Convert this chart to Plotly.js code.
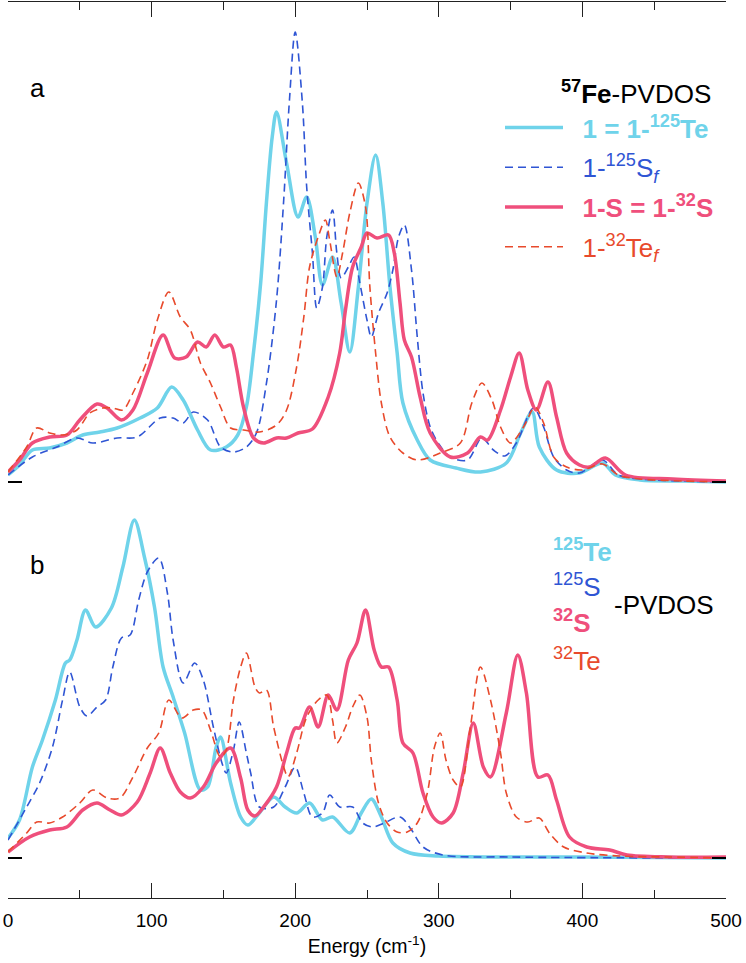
<!DOCTYPE html>
<html>
<head>
<meta charset="utf-8">
<script src="https://cdn.plot.ly/plotly-3.0.1.min.js"></script>
<style>html,body{margin:0;padding:0;background:#fff;}#chart{width:746px;height:963px;}</style>
</head>
<body>
<div id="chart"></div>
<script>
// ---- Panel a: 57Fe-PVDOS (energy in cm-1, intensity in arbitrary units) ----
const aTeE = [0,8,17,29,41,52,64,76,92,104,114,122,132,141,152,160,166,171,176,180,184,187,194,202,208,214,219,226,232,238,244,250,256,261,266,271,275,285,294,312,329,347,357,365,370,382,398,414,423,440,470,500];
const aTeY = [0.07,0.17,0.32,0.34,0.39,0.47,0.50,0.54,0.64,0.74,0.95,0.82,0.52,0.32,0.35,0.47,0.75,1.30,2.00,2.80,3.45,3.70,3.19,2.65,2.85,2.45,1.97,2.25,1.79,1.30,1.95,2.79,3.27,2.79,1.95,1.29,0.79,0.42,0.22,0.14,0.10,0.19,0.49,0.70,0.35,0.12,0.09,0.19,0.07,0.02,0.01,0.00];

const aSE = [0,17,34,48,59,76,90,106,115,122,129,139,148,157,166,173,180,187,192,196,200,205,208,212,215,219,222,226,229,232,237,241,245,250,253,258,264,268,272,276,281,285,289,294,300,308,320,330,338,346,354,366,373,380,389,398,414,425,440,470,500];
const aSY = [0.07,0.25,0.35,0.44,0.39,0.44,0.45,0.64,0.64,0.59,0.70,0.62,0.35,0.30,0.35,0.49,0.99,1.82,2.82,3.82,4.50,3.79,2.95,2.29,1.74,1.95,2.45,2.72,2.29,2.04,2.15,2.25,1.99,1.62,1.45,1.69,1.89,2.12,2.45,2.57,2.12,1.45,0.89,0.55,0.38,0.25,0.22,0.44,0.32,0.26,0.39,0.74,0.55,0.25,0.12,0.09,0.22,0.07,0.03,0.01,0.00];

const aSSE = [0,8,17,29,41,50,62,69,79,87,97,108,116,124,132,138,144,150,155,159,164,171,178,187,194,202,212,223,231,235,240,246,250,257,265,269,273,276,281,287,294,308,320,329,334,343,350,356,362,368,376,382,389,398,405,416,430,463,500];
const aSSY = [0.10,0.22,0.39,0.45,0.47,0.62,0.78,0.74,0.62,0.72,1.09,1.47,1.24,1.25,1.40,1.35,1.47,1.35,1.37,1.15,0.75,0.44,0.39,0.44,0.44,0.49,0.53,0.85,1.29,1.72,2.15,2.35,2.49,2.44,2.47,2.29,1.79,1.42,1.25,0.85,0.49,0.25,0.29,0.45,0.42,0.72,1.05,1.29,0.92,0.72,1.00,0.65,0.29,0.17,0.15,0.24,0.07,0.03,0.01];

const aTefE = [0,13,20,29,38,48,57,66,73,80,87,97,104,112,120,127,134,141,148,155,164,175,187,194,201,206,210,216,221,224,229,233,238,244,249,252,256,260,266,275,285,301,315,323,330,337,343,350,359,367,373,380,389,400,414,425,440,470,500];
const aTefY = [0.10,0.35,0.54,0.49,0.47,0.52,0.69,0.74,0.74,0.72,0.89,1.22,1.62,1.90,1.65,1.52,1.19,0.99,0.75,0.54,0.52,0.50,0.57,0.72,1.15,1.65,2.15,2.45,2.62,2.42,2.05,2.29,2.69,2.99,2.75,1.95,1.29,0.79,0.45,0.29,0.22,0.29,0.39,0.79,0.99,0.82,0.55,0.39,0.55,0.75,0.59,0.25,0.15,0.12,0.18,0.07,0.03,0.01,0.00];

// ---- Panel b: element-specific PVDOS ----
const bTeE = [0,8,17,24,33,40,43,48,54,61,72,80,88,95,102,108,115,123,134,139,145,148,155,162,167,175,185,193,201,210,219,226,238,246,253,260,268,280,300,350,400,500];
const bTeY = [0.20,0.38,0.91,1.18,1.58,1.95,1.98,2.18,2.48,2.31,2.50,2.91,3.38,3.01,2.51,1.91,1.61,1.25,0.68,0.71,1.11,1.21,0.75,0.41,0.33,0.45,0.61,0.51,0.45,0.55,0.38,0.41,0.25,0.45,0.59,0.41,0.15,0.05,0.02,0.01,0.01,0.00];

const bSE = [0,13,22,31,38,43,50,55,62,68,73,79,85,91,97,105,111,115,122,130,136,143,149,152,157,161,166,169,175,185,193,200,206,212,219,224,231,240,247,254,262,273,281,289,303,350,500];
const bSY = [0.18,0.51,0.75,1.11,1.58,1.86,1.51,1.42,1.51,1.58,1.91,2.20,2.23,2.58,2.86,3.00,2.65,2.18,1.75,1.95,1.78,1.31,0.95,0.85,1.08,1.36,1.05,0.85,0.51,0.51,0.71,0.91,0.65,0.41,0.45,0.63,0.51,0.51,0.35,0.31,0.35,0.41,0.28,0.11,0.03,0.01,0.00];

const bSSE = [0,15,29,41,52,62,71,79,90,99,106,113,120,127,136,145,155,162,167,172,178,187,194,200,203,210,216,223,229,237,243,249,255,260,265,271,275,282,289,296,302,310,317,324,331,336,347,355,361,369,376,382,391,403,419,431,460,500];
const bSSY = [0.06,0.21,0.28,0.31,0.48,0.55,0.48,0.43,0.56,0.85,1.10,0.85,0.66,0.60,0.71,0.95,1.10,0.80,0.48,0.42,0.51,0.71,1.05,1.30,1.30,1.51,1.31,1.63,1.48,1.98,2.15,2.48,2.08,1.91,1.91,1.58,1.15,1.05,0.65,0.41,0.35,0.45,0.85,1.35,0.91,0.81,1.45,2.03,1.65,0.81,0.83,0.58,0.21,0.11,0.08,0.03,0.01,0.01];

const bTefE = [0,13,20,29,38,50,59,69,78,87,97,105,112,121,129,135,141,148,152,157,162,166,172,175,180,185,192,195,201,208,216,222,226,229,235,240,245,250,253,258,264,271,278,285,292,297,301,305,310,315,322,329,336,343,347,354,362,370,377,387,403,426,460,500];
const bTefY = [0.06,0.25,0.36,0.35,0.41,0.55,0.68,0.60,0.60,0.81,1.10,1.25,1.58,1.40,1.48,1.48,1.28,1.01,1.08,1.58,1.91,2.05,1.71,1.65,1.68,1.31,0.91,0.81,1.05,1.41,1.58,1.63,1.38,1.15,1.31,1.51,1.63,1.41,0.98,0.55,0.35,0.26,0.26,0.35,0.65,1.11,1.25,0.98,0.78,0.71,1.31,1.91,1.58,1.05,0.65,0.41,0.36,0.40,0.25,0.11,0.05,0.02,0.01,0.00];

const xTicks = [0,100,200,300,400,500];

const cLight = '#6fd3ea', cBlue = '#2f55d4', cPink = '#ef4f7c', cRed = '#e84a2c';
const wSolid = 3.5, wDash = 1.6, dashPat = '8px,5px';
const SP = '\u00a0\u00a0';

function tr(x, y, color, width, dash, xa, ya, name, show, grp) {
  return {x: x, y: y, type: 'scatter', mode: 'lines', xaxis: xa, yaxis: ya,
    line: {color: color, width: width, dash: dash, shape: 'spline', smoothing: 0.9},
    name: name, showlegend: show, legendgroup: grp, hoverinfo: 'skip'};
}

const data = [
  tr(aTeE, aTeY, cLight, wSolid, 'solid', 'x2', 'y2', SP + '<span style="color:'+cLight+'"><b>1 = 1-<sup>125</sup>Te</b></span>', true, 'g1'),
  tr(aSE, aSY, cBlue, wDash, dashPat, 'x2', 'y2', SP + '<span style="color:'+cBlue+'">1-<sup>125</sup>S<sub><i>f</i></sub></span>', true, 'g2'),
  tr(aSSE, aSSY, cPink, wSolid, 'solid', 'x2', 'y2', SP + '<span style="color:'+cPink+'"><b>1-S = 1-<sup>32</sup>S</b></span>', true, 'g3'),
  tr(aTefE, aTefY, cRed, wDash, dashPat, 'x2', 'y2', SP + '<span style="color:'+cRed+'">1-<sup>32</sup>Te<sub><i>f</i></sub></span>', true, 'g4'),
  tr(bTeE, bTeY, cLight, wSolid, 'solid', 'x', 'y', '125Te', false, 'h1'),
  tr(bSE, bSY, cBlue, wDash, dashPat, 'x', 'y', '125S', false, 'h2'),
  tr(bSSE, bSSY, cPink, wSolid, 'solid', 'x', 'y', '32S', false, 'h3'),
  tr(bTefE, bTefY, cRed, wDash, dashPat, 'x', 'y', '32Te', false, 'h4')
];

const F = 'Liberation Sans, Arial, Helvetica, sans-serif';
const H = 896, T = 2;
function py(pix) { return (898 - pix) / H; }
function px(pix) { return (pix - 8) / 718; }
const splitPix = 488;
const split = py(splitPix);

const xCommon = {range: [0, 500], showgrid: false, zeroline: false, showline: true,
  linecolor: '#222', linewidth: 1, ticks: 'inside', ticklen: 15, tickcolor: '#222', tickwidth: 1,
  tickvals: xTicks, minor: {dtick: 50, tick0: 0, ticks: 'inside', ticklen: 8, tickcolor: '#222', tickwidth: 1}};

const yCommon = {showgrid: false, zeroline: false, showline: false, showticklabels: false,
  tickvals: [0], ticks: 'inside', ticklen: 14, tickwidth: 2, tickcolor: '#000', mirror: 'ticks', fixedrange: true};

const layout = {
  width: 746, height: 963,
  margin: {l: 8, r: 20, t: T, b: 65},
  paper_bgcolor: '#fff', plot_bgcolor: 'rgba(0,0,0,0)',
  font: {family: F, color: '#000'},
  showlegend: true,
  legend: {x: px(500), xanchor: 'left', y: py(104), yanchor: 'top', bgcolor: 'rgba(0,0,0,0)',
    font: {family: F, size: 26}, tracegroupgap: 3, itemwidth: 58, traceorder: 'grouped'},
  xaxis: Object.assign({}, xCommon, {anchor: 'y', side: 'bottom', showticklabels: true,
    ticktext: xTicks.map(String), tickfont: {family: F, size: 19, color: '#000'}, ticklabelstandoff: 5,
    title: {text: 'Energy (cm<sup>-1</sup>)', font: {family: F, size: 19.5, color: '#000'}, standoff: 9}}),
  xaxis2: Object.assign({}, xCommon, {anchor: 'y2', side: 'top', showticklabels: false, matches: 'x'}),
  yaxis: Object.assign({}, yCommon, {domain: [0, split], range: [-(898 - 858) / 100, (858 - splitPix) / 100]}),
  yaxis2: Object.assign({}, yCommon, {domain: [split, 1], range: [-(splitPix - 482) / 100, (482 - T) / 100]}),
  annotations: [
    {text: 'a', x: px(37), y: py(88), xref: 'paper', yref: 'paper', showarrow: false, xanchor: 'center', yanchor: 'middle', font: {size: 26, color: '#000'}},
    {text: 'b', x: px(37), y: py(565), xref: 'paper', yref: 'paper', showarrow: false, xanchor: 'center', yanchor: 'middle', font: {size: 26, color: '#000'}},
    {text: '<b><sup>57</sup>Fe</b>-PVDOS', x: px(713), y: py(92), xref: 'paper', yref: 'paper', showarrow: false, xanchor: 'right', yanchor: 'middle', font: {size: 26, color: '#000'}},
    {text: '<b><sup>125</sup>Te</b>', x: px(551), y: py(550), xref: 'paper', yref: 'paper', showarrow: false, xanchor: 'left', yanchor: 'middle', font: {size: 26, color: cLight}},
    {text: '<sup>125</sup>S', x: px(551), y: py(585), xref: 'paper', yref: 'paper', showarrow: false, xanchor: 'left', yanchor: 'middle', font: {size: 26, color: cBlue}},
    {text: '<b><sup>32</sup>S</b>', x: px(551), y: py(621), xref: 'paper', yref: 'paper', showarrow: false, xanchor: 'left', yanchor: 'middle', font: {size: 26, color: cPink}},
    {text: '<sup>32</sup>Te', x: px(551), y: py(659), xref: 'paper', yref: 'paper', showarrow: false, xanchor: 'left', yanchor: 'middle', font: {size: 26, color: cRed}},
    {text: '-PVDOS', x: px(612), y: py(605), xref: 'paper', yref: 'paper', showarrow: false, xanchor: 'left', yanchor: 'middle', font: {size: 26, color: '#000'}}
  ]
};

Plotly.newPlot('chart', data, layout, {displayModeBar: false, staticPlot: true});
</script>
</body>
</html>
